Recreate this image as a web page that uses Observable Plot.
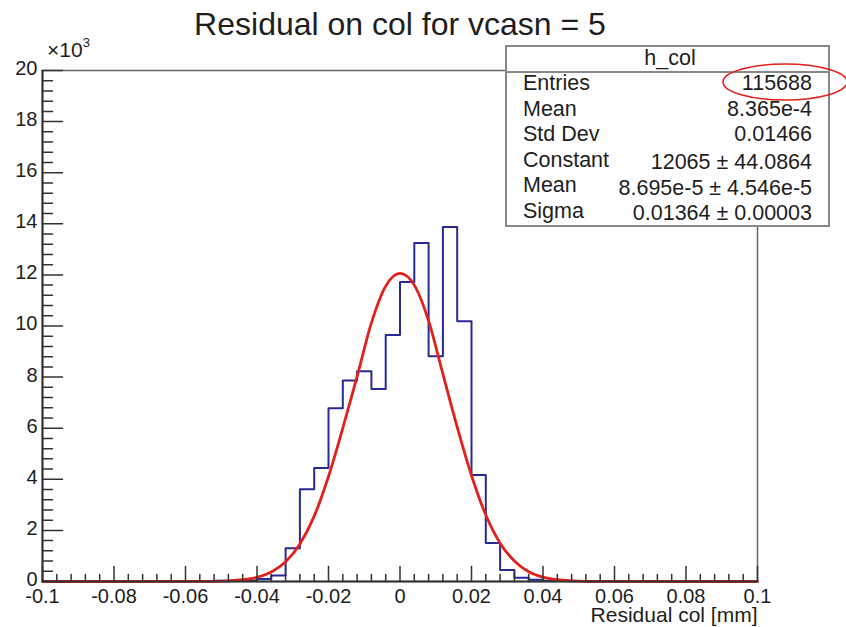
<!DOCTYPE html>
<html>
<head>
<meta charset="utf-8">
<script src="https://cdn.jsdelivr.net/npm/d3@7"></script>
<script src="https://cdn.jsdelivr.net/npm/@observablehq/plot@0.6"></script>
<style>
  html, body { margin: 0; padding: 0; background: #fff; }
  #chart { position: relative; width: 846px; height: 627px; }
  svg { font-family: "Liberation Sans", Arial, sans-serif; }
</style>
</head>
<body>
<div id="chart"></div>
<script>
// ---- data ----
const title = "Residual on col for vcasn = 5";
const xLabel = "Residual col [mm]";
const histName = "h_col";

// histogram bin lower edges (bin width 0.004 mm) and counts
const binEdges = [-0.100, -0.064, -0.060, -0.056, -0.052, -0.048, -0.044, -0.040, -0.036, -0.032, -0.028,
  -0.024, -0.020, -0.016, -0.012, -0.008, -0.004, 0.000, 0.004, 0.008, 0.012,
  0.016, 0.020, 0.024, 0.028, 0.032, 0.036, 0.040, 0.044, 0.048, 0.052, 0.056, 0.060, 0.064, 0.100];
const binCounts = [0, 0, 20, 20, 30, 30, 40, 100, 230, 1300, 3610,
  4440, 6780, 7870, 8230, 7530, 9650, 11720, 13250, 8820, 13870,
  10190, 4170, 1510, 450, 150, 70, 30, 20, 15, 10, 10, 0, 0, 0];

// fitted gaussian, sampled off the red curve
const fitX = [-0.100, -0.060, -0.052, -0.048, -0.044, -0.040, -0.036, -0.032, -0.028, -0.024, -0.020,
  -0.016, -0.012, -0.008, -0.004, 0.000, 0.004, 0.008, 0.012, 0.016, 0.020,
  0.024, 0.028, 0.032, 0.036, 0.040, 0.044, 0.048, 0.052, 0.060, 0.100];
const fitY = [0, 1, 8, 25, 70, 160, 370, 770, 1470, 2560, 4110,
  6000, 8020, 10120, 11560, 12060, 11600, 10200, 8120, 6040, 4150,
  2600, 1500, 800, 380, 170, 70, 25, 8, 1, 0];

const yTicks = [0, 2000, 4000, 6000, 8000, 10000, 12000, 14000, 16000, 18000, 20000];
const yMinor = [400, 800, 1200, 1600, 2400, 2800, 3200, 3600, 4400, 4800, 5200, 5600, 6400, 6800, 7200, 7600,
  8400, 8800, 9200, 9600, 10400, 10800, 11200, 11600, 12400, 12800, 13200, 13600, 14400, 14800, 15200, 15600,
  16400, 16800, 17200, 17600, 18400, 18800, 19200, 19600];
const xTicks = [-0.1, -0.08, -0.06, -0.04, -0.02, 0, 0.02, 0.04, 0.06, 0.08, 0.1];
const xTickLabels = ["-0.1", "-0.08", "-0.06", "-0.04", "-0.02", "0", "0.02", "0.04", "0.06", "0.08", "0.1"];
const xMinor = [-0.096, -0.092, -0.088, -0.084, -0.076, -0.072, -0.068, -0.064, -0.056, -0.052, -0.048, -0.044,
  -0.036, -0.032, -0.028, -0.024, -0.016, -0.012, -0.008, -0.004, 0.004, 0.008, 0.012, 0.016,
  0.024, 0.028, 0.032, 0.036, 0.044, 0.048, 0.052, 0.056, 0.064, 0.068, 0.072, 0.076, 0.084, 0.088, 0.092, 0.096];

const statLabels = ["Entries", "Mean", "Std Dev", "Constant", "Mean", "Sigma"];
const statValues = ["115688", "8.365e-4", "0.01466", "12065 \u00b1 44.0864", "8.695e-5 \u00b1 4.546e-5", "0.01364 \u00b1 0.00003"];

// ---- build ----
const hist = binEdges.map((x, i) => ({x, y: binCounts[i]}));
const fit = fitX.map((x, i) => ({x, y: fitY[i]}));
const tickShape = {draw(ctx, l) { ctx.moveTo(0, 0); ctx.lineTo(0, -l); }};
const axisColor = "#333";
const textColor = "#1e1e1e";

const plot = Plot.plot({
  width: 846,
  height: 627,
  marginLeft: 42,
  marginRight: 89,
  marginTop: 70,
  marginBottom: 46,
  style: {fontFamily: "'Liberation Sans', Arial, sans-serif", background: "white", overflow: "visible"},
  x: {domain: [-0.1, 0.1], axis: null},
  y: {domain: [0, 20000], axis: null},
  marks: [
    Plot.frame({stroke: "#666", strokeWidth: 1.5}),
    // histogram outline
    Plot.line(hist, {x: "x", y: "y", curve: "step-after", stroke: "#2a2a96", strokeWidth: 2}),
    // gaussian fit
    Plot.line(fit, {x: "x", y: "y", curve: "monotone-x", stroke: "#e3201b", strokeWidth: 2.8}),
    // axes lines
    Plot.ruleX([-0.1], {stroke: axisColor, strokeWidth: 2}),
    Plot.ruleY([0], {stroke: axisColor, strokeWidth: 2}),
    // y ticks (inward)
    Plot.vector(yTicks, {x: () => -0.1, y: d => d, length: 20, rotate: 90, anchor: "start", shape: tickShape, stroke: axisColor, strokeWidth: 1.5}),
    Plot.vector(yMinor, {x: () => -0.1, y: d => d, length: 10, rotate: 90, anchor: "start", shape: tickShape, stroke: axisColor, strokeWidth: 1.5}),
    // x ticks (inward)
    Plot.vector(xTicks, {x: d => d, y: () => 0, length: 15, rotate: 0, anchor: "start", shape: tickShape, stroke: axisColor, strokeWidth: 1.5}),
    Plot.vector(xMinor, {x: d => d, y: () => 0, length: 7, rotate: 0, anchor: "start", shape: tickShape, stroke: axisColor, strokeWidth: 1.5}),
    // tick labels
    Plot.text(yTicks, {x: () => -0.1, y: d => d, text: d => String(d / 1000), textAnchor: "end", dx: -5, dy: -2, fontSize: 20, fill: textColor}),
    Plot.text(xTicks, {x: d => d, y: () => 0, text: (d, i) => xTickLabels[i], dy: 15, fontSize: 20, fill: textColor}),
    // axis label
    Plot.text([xLabel], {frameAnchor: "bottom-right", lineAnchor: "middle", text: d => d, dy: 34, fontSize: 21, fill: textColor, textAnchor: "end"})
  ]
});

const svg = d3.select(plot);
// title
svg.append("text").attr("x", 400).attr("y", 35).attr("text-anchor", "middle")
  .attr("font-size", 32).attr("fill", textColor).text(title);
// ×10^3 exponent
const ex = svg.append("text").attr("x", 47).attr("y", 57).attr("text-anchor", "start")
  .attr("font-size", 21).attr("fill", textColor);
ex.append("tspan").text("\u00d710");
ex.append("tspan").attr("dy", -10).attr("font-size", 13).text("3");

// stats box
const bx = 506, by = 46, bw = 323, bh = 180;
const g = svg.append("g").attr("font-size", 21.5).attr("fill", textColor);
g.append("rect").attr("x", bx).attr("y", by).attr("width", bw).attr("height", bh)
  .attr("fill", "white").attr("stroke", "#888").attr("stroke-width", 2);
g.append("line").attr("x1", bx).attr("x2", bx + bw).attr("y1", 72).attr("y2", 72)
  .attr("stroke", "#888").attr("stroke-width", 2);
g.append("text").attr("x", 670).attr("y", 65).attr("text-anchor", "middle").text(histName);
const labelBase = [90, 116, 141, 167, 192, 218];
const valueBase = [90, 116, 141, 169, 195, 220];
statLabels.forEach((lab, i) => {
  g.append("text").attr("x", 523).attr("y", labelBase[i]).attr("text-anchor", "start").text(lab);
  g.append("text").attr("x", 812).attr("y", valueBase[i]).attr("text-anchor", "end").text(statValues[i]);
});
// red annotation ellipse
svg.append("ellipse").attr("cx", 785).attr("cy", 82).attr("rx", 62).attr("ry", 18)
  .attr("fill", "none").attr("stroke", "#e3201b").attr("stroke-width", 1.6);

document.getElementById("chart").appendChild(plot);
</script>
</body>
</html>
